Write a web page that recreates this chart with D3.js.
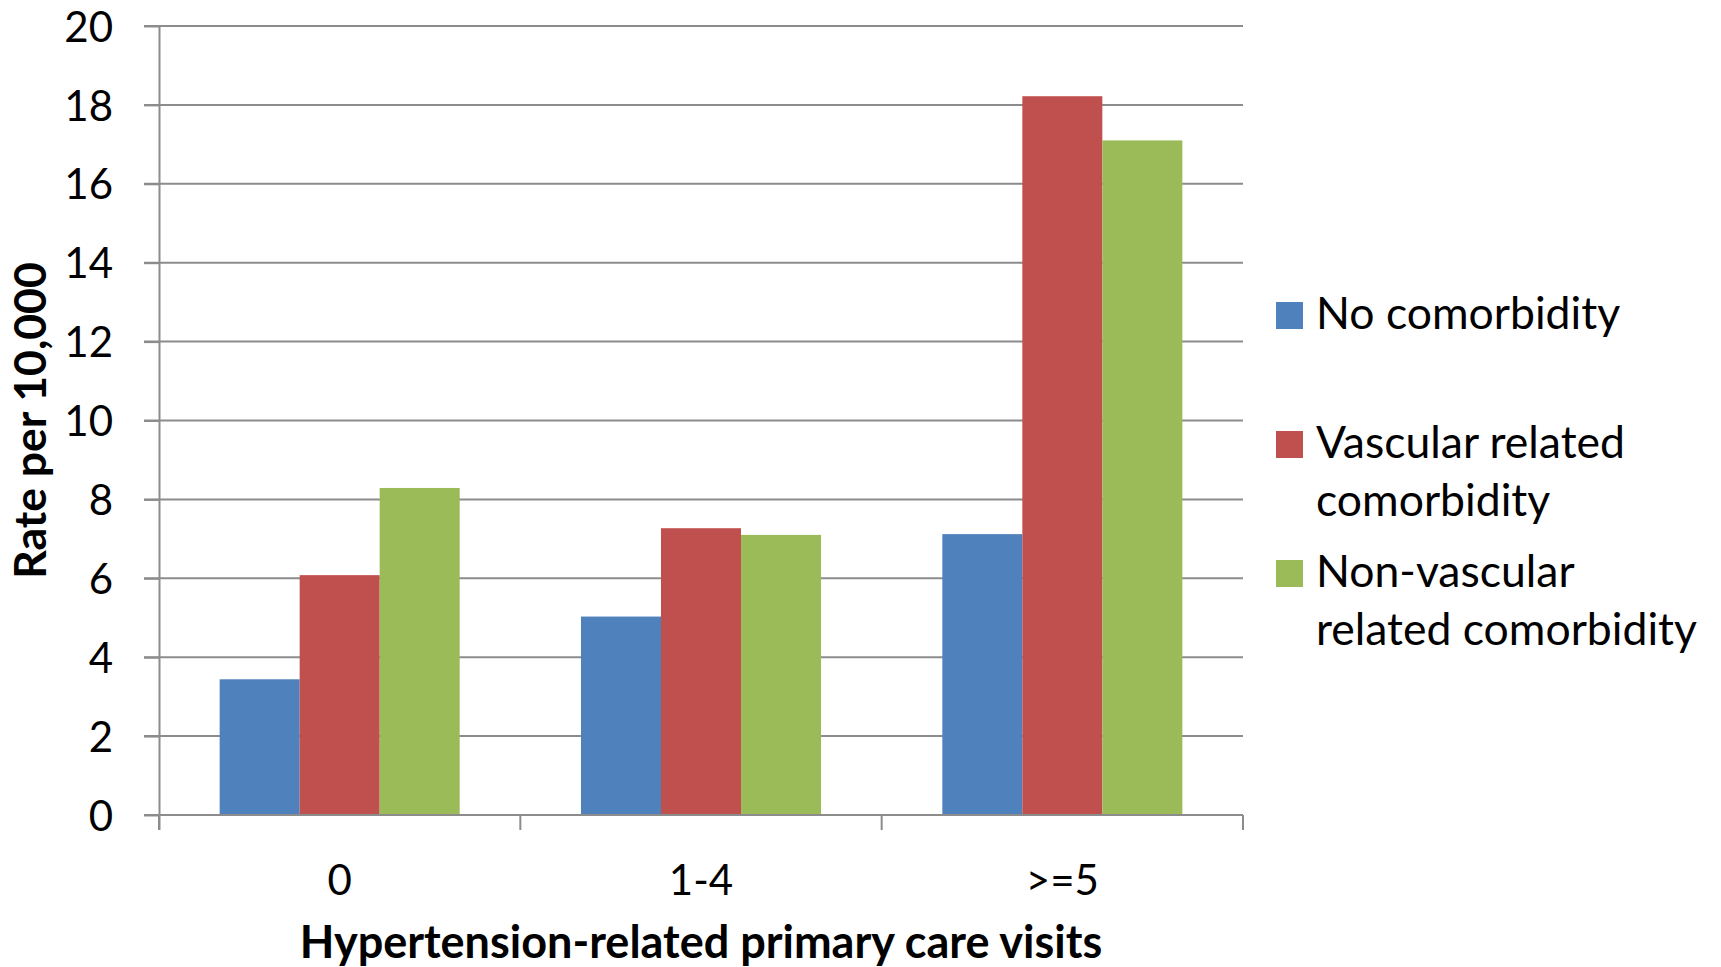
<!DOCTYPE html>
<html>
<head>
<meta charset="utf-8">
<script src="https://cdn.jsdelivr.net/npm/d3@7"></script>
<style>
  html, body { margin: 0; padding: 0; background: #fff; }
  svg { display: block; font-family: Lato, "Open Sans", sans-serif; }
</style>
</head>
<body>
<svg id="chart" width="1721" height="967"></svg>
<script>
// Rate per 10,000 by number of hypertension-related primary care visits
const categories = ["0", "1-4", ">=5"];
const seriesNames = ["No comorbidity", "Vascular related comorbidity", "Non-vascular related comorbidity"];
const noComorbidity = [3.44, 5.03, 7.12];
const vascular = [6.08, 7.27, 18.22];
const nonVascular = [8.29, 7.10, 17.10];
const yTicks = [0, 2, 4, 6, 8, 10, 12, 14, 16, 18, 20];
const legendLines = [["No comorbidity"], ["Vascular related", "comorbidity"], ["Non-vascular", "related comorbidity"]];
const colors = ["#4F81BD", "#C0504D", "#9BBB59"];

const seriesValues = [noComorbidity, vascular, nonVascular];

const svg = d3.select("#chart");
const plot = { left: 159, right: 1243, top: 26, bottom: 815 };
const axisColor = "#8c8c8c";

const x0 = d3.scaleBand().domain(categories).range([plot.left, plot.right]).padding(0);
const x1 = d3.scaleBand().domain(d3.range(seriesNames.length))
  .range([0, x0.bandwidth()]).paddingInner(0).paddingOuter(0.758);
const y = d3.scaleLinear().domain([0, 20]).range([plot.bottom, plot.top]);

// Horizontal gridlines (behind the bars)
svg.append("g").selectAll("line").data(yTicks).join("line")
  .attr("x1", plot.left - 15).attr("x2", plot.right)
  .attr("y1", d => y(d)).attr("y2", d => y(d))
  .attr("stroke", axisColor).attr("stroke-width", 2);

// Bars
const groups = svg.append("g").selectAll("g").data(categories).join("g")
  .attr("transform", d => `translate(${x0(d)},0)`);
groups.selectAll("rect")
  .data((c, ci) => seriesValues.map((vals, si) => ({ si, v: vals[ci] })))
  .join("rect")
  .attr("x", d => x1(d.si))
  .attr("width", x1.bandwidth())
  .attr("y", d => y(d.v))
  .attr("height", d => y(0) - y(d.v))
  .attr("fill", d => colors[d.si]);

// Y axis
const yAxis = svg.append("g")
  .attr("transform", `translate(${plot.left},0)`)
  .call(d3.axisLeft(y).tickValues(yTicks).tickSize(15).tickPadding(31).tickFormat(d3.format("d")));
yAxis.select(".domain").attr("stroke", axisColor).attr("stroke-width", 2)
  .attr("d", `M0.5,${plot.top}V${plot.bottom + 15}`);
yAxis.selectAll(".tick line").attr("stroke", axisColor).attr("stroke-width", 2);
yAxis.selectAll(".tick text").attr("font-size", 42).attr("fill", "#000")
  .attr("font-family", "Lato, sans-serif").attr("dy", "0.36em");

// X axis
const xAxis = svg.append("g")
  .attr("transform", `translate(0,${plot.bottom})`)
  .call(d3.axisBottom(x0).tickSize(0).tickPadding(0));
xAxis.select(".domain").remove();
xAxis.selectAll(".tick text").attr("font-size", 42).attr("fill", "#000")
  .attr("font-family", "Lato, sans-serif").attr("dy", 0).attr("y", 80);
// boundary ticks between categories
const bounds = categories.map(c => x0(c)).concat([plot.right]);
svg.append("g").selectAll("line").data(bounds).join("line")
  .attr("x1", d => d).attr("x2", d => d)
  .attr("y1", plot.bottom).attr("y2", plot.bottom + 15)
  .attr("stroke", axisColor).attr("stroke-width", 2);
svg.append("line")
  .attr("x1", plot.left).attr("x2", plot.right)
  .attr("y1", plot.bottom).attr("y2", plot.bottom)
  .attr("stroke", axisColor).attr("stroke-width", 2);

// Axis titles
svg.append("text")
  .attr("x", (plot.left + plot.right) / 2).attr("y", 958)
  .attr("text-anchor", "middle").attr("font-size", 45).attr("font-weight", "bold")
  .text("Hypertension-related primary care visits");
svg.append("text")
  .attr("transform", `translate(46,${(plot.top + plot.bottom) / 2}) rotate(-90)`)
  .attr("text-anchor", "middle").attr("font-size", 44.5).attr("font-weight", "bold")
  .text("Rate per 10,000");

// Legend
const legendTop = [302, 431, 560];
const legend = svg.append("g").selectAll("g").data(seriesNames).join("g")
  .attr("transform", (d, i) => `translate(1276,${legendTop[i]})`);
legend.append("rect").attr("width", 27).attr("height", 27).attr("fill", (d, i) => colors[i]);
legend.append("text")
  .attr("x", 40).attr("font-size", 44.5).attr("fill", "#000")
  .selectAll("tspan").data((d, i) => legendLines[i]).join("tspan")
  .attr("x", 40).attr("y", (d, j) => 27 + j * 58)
  .text(d => d);
</script>
</body>
</html>
